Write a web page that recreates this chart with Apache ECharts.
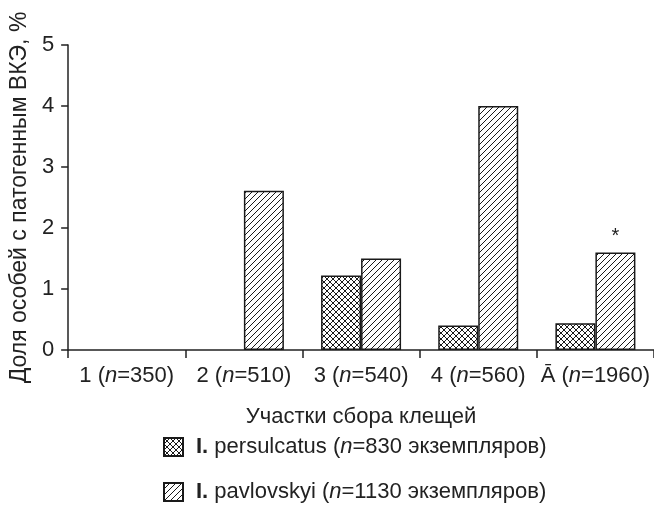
<!DOCTYPE html>
<html>
<head>
<meta charset="utf-8">
<script src="https://cdn.jsdelivr.net/npm/echarts@6/dist/echarts.min.js"></script>
<style>
html,body{margin:0;padding:0;background:#fff;}
#chart{width:654px;height:506px;}
</style>
</head>
<body>
<div id="chart"></div>
<script>
// ---- data ----
const siteLabels = ['1', '2', '3', '4', 'Ā'];
const siteN = [350, 510, 540, 560, 1960];
const seriesNames = ['I. persulcatus', 'I. pavlovskyi'];
const seriesTotals = [830, 1130];
const persulcatusValues = [0, 0, 1.22, 0.40, 0.44];
const pavlovskyiValues = [0, 2.61, 1.50, 4.00, 1.60];
const pavlovskyiMarks = ['', '', '', '', '*'];
const yTicks = [0, 1, 2, 3, 4, 5];

const FONT = "'Liberation Sans', Arial, Helvetica, sans-serif";
const INK = '#222';
const FS = 22;

function hatch(type) {
  const s = 6;
  const c = document.createElement('canvas');
  c.width = s; c.height = s;
  const ctx = c.getContext('2d');
  ctx.fillStyle = '#fff';
  ctx.fillRect(0, 0, s, s);
  ctx.strokeStyle = '#1a1a1a';
  ctx.lineWidth = 1;
  ctx.beginPath();
  for (const k of [-s, 0, s]) {
    ctx.moveTo(k, s); ctx.lineTo(k + s, 0);
    if (type === 'cross') { ctx.moveTo(k, 0); ctx.lineTo(k + s, s); }
  }
  ctx.stroke();
  return { image: c, repeat: 'repeat' };
}
// empty (zero) bars are not drawn in the reference
const asBars = arr => arr.map(v => (v === 0 ? '-' : v));

const chart = echarts.init(document.getElementById('chart'), null, { renderer: 'canvas' });

const richLabel = {
  i: { fontStyle: 'italic', fontFamily: FONT, fontSize: FS, color: INK },
  b: { fontWeight: 'bold', fontFamily: FONT, fontSize: FS, color: INK }
};

function legendFor(idx, top) {
  return {
    orient: 'horizontal',
    left: 158,
    top: top,
    itemWidth: 19,
    itemHeight: 18,
    icon: 'rect',
    selectedMode: false,
    data: [seriesNames[idx]],
    textStyle: { fontFamily: FONT, fontSize: FS, color: INK, padding: [0, 0, 0, 8], rich: richLabel },
    formatter: function (name) {
      const i = seriesNames.indexOf(name);
      const parts = name.split(' ');
      return '{b|' + parts[0] + '} ' + parts.slice(1).join(' ') + ' ({i|n}=' + seriesTotals[i] + ' экземпляров)';
    }
  };
}

chart.setOption({
  animation: false,
  backgroundColor: '#fff',
  textStyle: { fontFamily: FONT, color: INK },
  grid: { left: 67, right: 0, top: 45, bottom: 156, containLabel: false },
  legend: [legendFor(0, 431), legendFor(1, 476)],
  xAxis: {
    type: 'category',
    data: siteLabels,
    boundaryGap: true,
    name: 'Участки сбора клещей',
    nameLocation: 'middle',
    nameGap: 56,
    nameTextStyle: { fontFamily: FONT, fontSize: FS, color: INK },
    axisLine: { show: true, lineStyle: { color: INK, width: 1.5 } },
    axisTick: { show: true, interval: 0, length: 8, lineStyle: { color: INK, width: 1.5 } },
    axisLabel: {
      interval: 0,
      hideOverlap: false,
      margin: 15,
      fontFamily: FONT, fontSize: FS, color: INK,
      rich: richLabel,
      formatter: function (value, index) {
        return value + ' ({i|n}=' + siteN[index] + ')';
      }
    },
    splitLine: { show: false }
  },
  yAxis: {
    type: 'value',
    min: yTicks[0],
    max: yTicks[yTicks.length - 1],
    interval: 1,
    name: 'Доля особей с патогенным ВКЭ, %',
    nameLocation: 'middle',
    nameGap: 31,
    nameRotate: 90,
    nameTextStyle: { fontFamily: FONT, fontSize: 23, color: INK },
    axisLine: { show: true, lineStyle: { color: INK, width: 1.5 } },
    axisTick: { show: true, length: 7, lineStyle: { color: INK, width: 1.5 } },
    axisLabel: { margin: 14, fontFamily: FONT, fontSize: FS, color: INK },
    splitLine: { show: false }
  },
  series: [
    {
      name: seriesNames[0],
      type: 'bar',
      data: asBars(persulcatusValues),
      barWidth: 40,
      barGap: '0%',
      itemStyle: { color: hatch('cross'), borderColor: '#1a1a1a', borderWidth: 1.5 }
    },
    {
      name: seriesNames[1],
      type: 'bar',
      data: asBars(pavlovskyiValues),
      barWidth: 40,
      barGap: '0%',
      itemStyle: { color: hatch('line'), borderColor: '#1a1a1a', borderWidth: 1.5 },
      label: {
        show: true,
        position: 'top',
        distance: 6,
        fontFamily: FONT,
        fontSize: 20,
        color: INK,
        formatter: function (p) { return pavlovskyiMarks[p.dataIndex]; }
      }
    }
  ]
});
</script>
</body>
</html>
